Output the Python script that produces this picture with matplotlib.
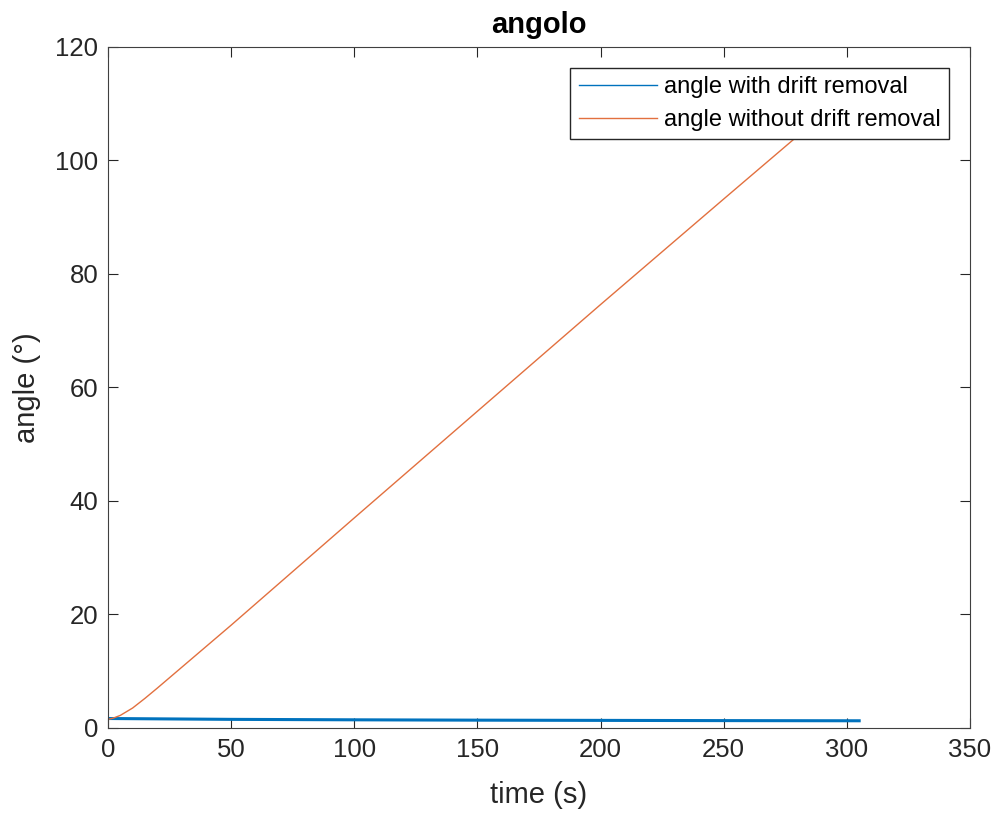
import matplotlib
matplotlib.use("Agg")
import matplotlib.pyplot as plt

plt.rcParams['font.family'] = ['Liberation Sans', 'DejaVu Sans']

# tempo (s) e angoli
t_nodrift = [0, 50, 100, 150, 200, 250, 305]
ang_nodrift = [1.65, 1.5, 1.42, 1.36, 1.32, 1.28, 1.25]

t_drift = [0, 2, 5, 10, 15, 20, 30, 50, 100, 150, 200, 250, 280, 305]
ang_drift = [1.5, 1.7, 2.2, 3.5, 5.2, 7.0, 10.7, 18.1, 37.0, 55.8, 74.6, 93.2, 104.3, 113.6]

fig = plt.figure(figsize=(10, 8.16), dpi=100)
ax = fig.add_axes([0.108, 0.108, 0.862, 0.8345])

ax.plot(t_nodrift, ang_nodrift, color='#0072BD', lw=2.2, label='angle with drift removal')
ax.plot(t_drift, ang_drift, color='#E2703F', lw=1.0, label='angle without drift removal')

ax.set_xlim(0, 350)
ax.set_ylim(0, 120)
ax.set_xticks(range(0, 351, 50))
ax.set_yticks(range(0, 121, 20))
ax.tick_params(direction='in', top=True, right=True, labelsize=18.5, colors='#262626',
               length=7, pad=7)
for s in ax.spines.values():
    s.set_color('#404040')
ax.set_xlabel('time (s)', fontsize=21, color='#262626', labelpad=14)
ax.set_ylabel('angle (°)', fontsize=21, color='#262626', labelpad=10)
ax.set_title('angolo', fontsize=21, fontweight='bold', pad=10)

leg = ax.legend(loc='upper right', fontsize=17, fancybox=False, framealpha=1,
                edgecolor='#262626', handlelength=3.3, handletextpad=0.3,
                borderaxespad=0.9, labelspacing=0.45, borderpad=0.35)
leg.get_frame().set_linewidth(1.0)
leg.get_lines()[0].set_linewidth(1.0)

fig.savefig('out.png')
